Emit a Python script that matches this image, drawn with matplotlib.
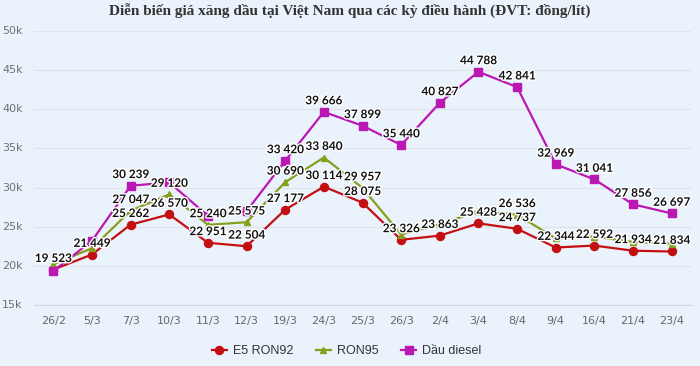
import matplotlib.pyplot as plt
import matplotlib.patheffects as pe
from matplotlib.transforms import blended_transform_factory

dates = ["26/2", "5/3", "7/3", "10/3", "11/3", "12/3", "19/3", "24/3", "25/3",
         "26/3", "2/4", "3/4", "8/4", "9/4", "16/4", "21/4", "23/4"]
e5 = [19523, 21449, 25262, 26570, 22951, 22504, 27177, 30114, 28075,
      23326, 23863, 25428, 24737, 22344, 22592, 21934, 21834]
ron95 = [20200, 22250, 27047, 29120, 25240, 25575, 30690, 33840, 29957,
         24000, 25300, 27000, 26536, 23500, 23750, 23050, 22850]
diesel = [19350, 23200, 30239, 30650, 26400, 27000, 33420, 39666, 37899,
          35440, 40827, 44788, 42841, 32969, 31041, 27856, 26697]
# which data labels are visible in the original (others hidden by overlap)
e5_lbl = list(range(17))
ron95_lbl = [2, 3, 4, 5, 6, 7, 8, 12]
diesel_lbl = [2, 6, 7, 8, 9, 10, 11, 12, 13, 14, 15, 16]
yticks = [15000, 20000, 25000, 30000, 35000, 40000, 45000, 50000]
ytick_labels = ["15k", "20k", "25k", "30k", "35k", "40k", "45k", "50k"]

bg = "#eaf3fc"
fig = plt.figure(figsize=(7, 3.66), dpi=100, facecolor=bg)
ax = fig.add_axes([34/700, 1-305/366, 657/700, 274/366])
ax.set_facecolor(bg)

x = range(len(dates))
series = [("E5 RON92", e5, "#c40f12", "o", 5.8, e5_lbl),
          ("RON95", ron95, "#87a01b", "^", 5.0, ron95_lbl),
          ("Dầu diesel", diesel, "#bb17b3", "s", 6.3, diesel_lbl)]
for name, vals, col, mk, ms, _ in series:
    ax.plot(x, vals, color=col, lw=1.6, marker=mk, markersize=ms, label=name, zorder=3)

def fmt(v):
    return f"{v:,}".replace(",", " ")

for name, vals, col, mk, ms, idx in series:
    for i in idx:
        ax.annotate(fmt(vals[i]), (i, vals[i]), xytext=(0, 8), textcoords="offset points",
                    ha="center", va="center", fontsize=8.5, fontweight="bold",
                    family="Lato", color="#111111",
                    path_effects=[pe.withStroke(linewidth=2, foreground="white")], zorder=5)

ax.set_xlim(-0.5, len(dates) - 0.5)
ax.set_ylim(15000, 50000)
ax.set_yticks(yticks)
ax.set_yticklabels([])
ax.tick_params(axis="y", length=0)
tr = blended_transform_factory(fig.transFigure, ax.transData)
for v, t in zip(yticks, ytick_labels):
    ax.text(2/700, v, t, transform=tr, fontsize=8, color="#707070", ha="left", va="center")
ax.set_xticks(list(x))
ax.set_xticklabels(dates, fontsize=8, color="#666666")
ax.tick_params(axis="x", length=0, pad=8)
ax.grid(axis="y", color="#e0e4e8", lw=0.9)
for s in ["top", "right", "left"]:
    ax.spines[s].set_visible(False)
ax.spines["bottom"].set_color("#ccd6eb")

fig.suptitle("Diễn biến giá xăng dầu tại Việt Nam qua các kỳ điều hành (ĐVT: đồng/lít)",
             y=0.99, fontsize=11, fontweight="bold", family="Liberation Serif", color="#333333")

fig.legend(loc="center", bbox_to_anchor=(0.495, 1-351/366), ncol=3, frameon=False,
           prop={"family": "Liberation Sans", "size": 9}, handlelength=1.2,
           columnspacing=1.8, handletextpad=0.5, labelcolor="#333333")
fig.savefig("out.png", dpi=100, facecolor=bg)
